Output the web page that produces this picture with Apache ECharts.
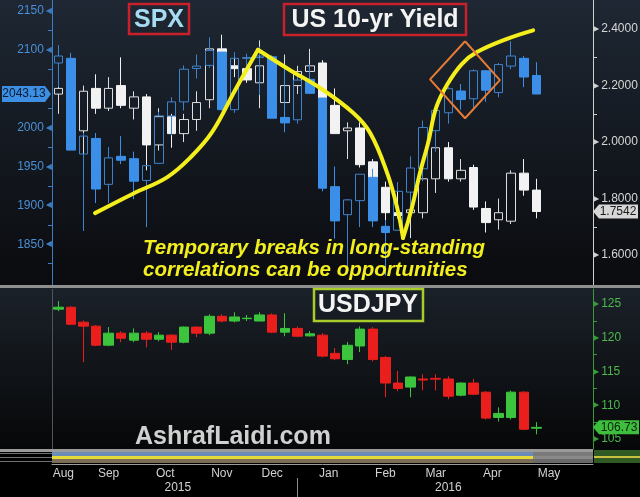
<!DOCTYPE html>
<html><head><meta charset="utf-8">
<script src="https://cdn.jsdelivr.net/npm/echarts@6/dist/echarts.min.js"></script>
<style>html,body{margin:0;padding:0;background:#000}#c{width:640px;height:497px}</style>
</head><body><div id="c"></div>
<script>
// Week-ending dates (Fridays); last four are empty future slots
const weeks = ['2015-08-14','2015-08-21','2015-08-28','2015-09-04','2015-09-11','2015-09-18','2015-09-25','2015-10-02','2015-10-09','2015-10-16','2015-10-23','2015-10-30','2015-11-06','2015-11-13','2015-11-20','2015-11-27','2015-12-04','2015-12-11','2015-12-18','2015-12-25','2016-01-01','2016-01-08','2016-01-15','2016-01-22','2016-01-29','2016-02-05','2016-02-12','2016-02-19','2016-02-26','2016-03-04','2016-03-11','2016-03-18','2016-03-25','2016-04-01','2016-04-08','2016-04-15','2016-04-22','2016-04-29','2016-05-06','2016-05-13','2016-05-20','2016-05-27','2016-06-03'];
const monthNames = ['Jan','Feb','Mar','Apr','May','Jun','Jul','Aug','Sep','Oct','Nov','Dec'];

// [open, close, low, high]
const spx = [
[2083,2092,2052,2106],[2089,1971,1971,2096],[1966,1989,1867,1993],[1986,1921,1903,1993],
[1927,1961,1903,1975],[1963,1958,1953,1989],[1960,1931,1908,1969],[1932,1951,1872,1952],
[1954,2015,1954,2020],[2015,2033,1990,2039],[2033,2075,2022,2080],[2076,2079,2063,2094],
[2080,2099,2077,2116],[2097,2023,2022,2097],[2023,2089,2019,2097],[2089,2090,2070,2095],
[2090,2092,2042,2104],[2091,2012,2012,2093],[2013,2006,1994,2076],[2010,2061,2005,2067],
[2062,2044,2043,2081],[2038,1922,1918,2038],[1924,1880,1857,1950],[1888,1907,1812,1908],
[1906,1940,1872,1940],[1936,1880,1872,1947],[1873,1865,1810,1881],[1868,1918,1868,1930],
[1917,1948,1891,1963],[1947,2000,1931,2009],[1996,2022,1969,2022],[2019,2050,2005,2052],
[2047,2036,2023,2056],[2037,2073,2022,2075],[2073,2048,2033,2074],[2045,2081,2039,2083],
[2079,2092,2075,2111],[2089,2065,2052,2092],[2067,2043.13,2043,2084]];

const yld = [
[2.17,2.19,2.10,2.25],[2.20,2.05,2.04,2.22],[2.04,2.18,1.91,2.20],[2.19,2.12,2.10,2.24],
[2.12,2.19,2.11,2.23],[2.20,2.13,2.12,2.30],[2.12,2.16,2.08,2.18],[2.16,1.99,1.90,2.17],
[1.99,2.09,1.97,2.12],[2.09,2.03,1.98,2.10],[2.03,2.08,2.00,2.10],[2.08,2.14,2.04,2.18],
[2.15,2.33,2.12,2.34],[2.33,2.27,2.26,2.38],[2.27,2.26,2.23,2.31],[2.26,2.22,2.21,2.27],
[2.21,2.27,2.12,2.36],[2.27,2.13,2.12,2.27],[2.14,2.20,2.13,2.31],[2.20,2.25,2.17,2.27],
[2.25,2.27,2.24,2.33],[2.28,2.12,2.11,2.29],[2.13,2.03,2.03,2.19],[2.04,2.05,1.94,2.07],
[2.05,1.92,1.91,2.07],[1.93,1.84,1.82,1.94],[1.84,1.75,1.53,1.86],[1.75,1.74,1.73,1.84],
[1.75,1.76,1.66,1.82],[1.75,1.87,1.73,1.90],[1.87,1.98,1.82,1.99],[1.98,1.87,1.86,2.00],
[1.87,1.90,1.86,1.94],[1.91,1.77,1.76,1.92],[1.765,1.715,1.68,1.79],[1.725,1.75,1.69,1.80],
[1.72,1.89,1.71,1.90],[1.89,1.83,1.81,1.94],[1.83,1.7542,1.73,1.87]];

const usdjpy = [
[124.26,124.55,123.96,125.45],[124.55,122.03,121.9,124.7],[122.33,121.74,116.39,122.6],[121.74,118.92,118.77,121.9],
[118.92,120.7,118.77,121.6],[120.7,119.95,119.36,121.0],[119.66,120.7,119.36,121.4],[120.7,119.8,118.6,121.0],
[119.8,120.4,119.5,120.85],[120.4,119.36,118.2,120.55],[119.36,121.6,119.2,121.7],[121.6,120.7,120.1,121.7],
[120.7,123.2,120.4,123.5],[123.2,122.5,122.3,123.5],[122.5,123.1,122.3,123.8],[122.85,122.92,122.5,123.4],
[122.5,123.4,122.5,123.8],[123.4,120.85,120.7,123.65],[120.85,121.4,120.25,123.65],[121.4,120.25,120.1,121.7],
[120.3,120.6,120.2,121.0],[120.4,117.3,117.1,120.7],[117.7,116.9,116.7,118.5],[116.8,118.9,116.1,119.4],
[118.8,121.3,117.9,121.7],[121.3,116.8,116.5,121.6],[117.1,113.3,111.2,117.3],[113.3,112.5,112.1,115.1],
[112.7,114.2,111.2,114.3],[113.9,113.75,112.2,114.6],[114.0,113.88,112.2,114.6],[113.9,111.35,110.9,114.3],
[111.5,113.3,111.35,113.4],[113.3,111.65,111.5,113.9],[111.95,108.1,107.9,112.1],[108.2,108.8,107.6,109.7],
[108.2,111.95,107.9,112.2],[111.95,106.45,106.3,112.1],[106.6,106.73,105.7,107.5]];

const spxLast = 2043.13, yldLast = 1.7542, jpyLast = 106.73;

const spxTicks = [1850,1900,1950,2000,2050,2100,2150];
const spxMinor = [1825,1875,1925,1975,2025,2075,2125];
const yldTicks = [1.6,1.8,2.0,2.2,2.4];
const yldMinor = [1.7,1.9,2.1,2.3];
const jpyTicks = [105,110,115,120,125];
const jpyMinor = [107.5,112.5,117.5,122.5];

// Hand-drawn annotation (week index, SPX level)
const trendA = [[2.92,1890],[5.94,1915],[8.64,1936],[10.47,1961],[12.22,1994],[14.05,2048],[15.87,2100]];
const trendB = [[15.87,2100],[18.3,2075],[20.8,2051],[23.43,2019],[24.79,1993],[26.13,1942],[26.92,1898],[27.4,1858]];
const trendC = [[27.4,1858],[28.12,1898],[28.75,1942],[29.39,1980],[30.02,2025],[30.9,2055],[32.09,2082],[33.28,2097],[35.67,2114],[37.74,2125]];
const diamond = [[32.33,2111],[35.1,2061],[32.33,2012],[29.55,2062],[32.33,2111]];

// month ticks/labels derived from the week list
const mIdx = weeks.map(w => +w.slice(5,7));
const monthEnds = [];
for (let i = 0; i < weeks.length - 1; i++) if (mIdx[i] !== mIdx[i+1]) monthEnds.push(i);
const monthPos = [], monthLab = [];
monthEnds.forEach((e, k) => {
  const prev = k === 0 ? e - 4 : monthEnds[k-1];
  monthPos.push(Math.max(0.4, (prev + e) / 2));
  monthLab.push(monthNames[mIdx[e]-1]);
});
const years = [...new Set(weeks.map(w => w.slice(0,4)))];
const yearPos = years.map(y => {
  const idx = weeks.map((w,i)=>w.startsWith(y)?i:-1).filter(i=>i>=0);
  return (idx[0] + idx[idx.length-1]) / 2;
});
const yearBreak = monthEnds.filter(e => weeks[e].slice(0,4) !== weeks[e+1].slice(0,4));
// the last-value tag hides a tick label that sits under it
const spxShown = spxTicks.filter(v => Math.abs(v - spxLast) > 9);

const FONT = '"Liberation Sans", Arial, sans-serif';
const N = weeks.length;
const chart = echarts.init(document.getElementById('c'), null, {renderer:'canvas'});

const labelNearest = (arr, labs, v) => { let b=0; arr.forEach((p,i)=>{ if (Math.abs(p-v)<Math.abs(arr[b]-v)) b=i; }); return labs[b]; };

const option = {
  animation: false,
  backgroundColor: '#000',
  grid: [
    {left: 52, right: 47, top: 0, height: 287, outerBoundsMode: 'none'},
    {left: 52, right: 47, top: 289, height: 160, outerBoundsMode: 'none'}
  ],
  xAxis: [
    {type:'category', gridIndex:0, data: weeks, show:false, boundaryGap:true},
    {type:'value', gridIndex:0, min:-0.5, max:N-0.5, show:false},
    {type:'category', gridIndex:1, data: weeks, position:'bottom', offset:15, boundaryGap:true,
      axisLine:{onZero:false, lineStyle:{color:'#9c9c9c', width:1}},
      axisTick:{alignWithLabel:true, length:4, interval:(i)=>monthEnds.indexOf(i)>=0, lineStyle:{color:'#a8a8a8'}},
      axisLabel:{show:false}, splitLine:{show:false}},
    {type:'value', gridIndex:1, min:-0.5, max:N-0.5, position:'bottom', offset:15,
      axisLine:{show:false, onZero:false}, axisTick:{show:false}, splitLine:{show:false},
      axisLabel:{customValues: monthPos, formatter: v => labelNearest(monthPos, monthLab, v),
        margin:4, color:'#d2d2d2', fontSize:12, fontFamily:FONT}},
    {type:'value', gridIndex:1, min:-0.5, max:N-0.5, position:'bottom', offset:15,
      axisLine:{show:false, onZero:false}, axisTick:{show:false}, splitLine:{show:false},
      axisLabel:{customValues: yearPos, formatter: v => labelNearest(yearPos, years, v),
        margin:18, color:'#d2d2d2', fontSize:12, fontFamily:FONT}},
    {type:'value', gridIndex:1, min:-0.5, max:N-0.5, position:'bottom', offset:29,
      axisLine:{show:false, onZero:false}, splitLine:{show:false}, axisLabel:{show:false},
      axisTick:{show:true, customValues: yearBreak, length:19, lineStyle:{color:'#8a8a8a', width:1}}}
  ],
  yAxis: [
    {type:'value', gridIndex:0, position:'left', min:1795, max:2164,
      axisLine:{show:true, onZero:false, lineStyle:{color:'#3b7cc4', width:1}},
      axisTick:{show:true, customValues: spxMinor, length:4, lineStyle:{color:'#3b7cc4'}},
      splitLine:{show:false},
      axisLabel:{customValues: spxShown, margin:0, formatter: v => '{v|' + v + '}{t|◀}',
        rich:{v:{fontSize:12, color:'#4a8fd6', fontFamily:FONT, padding:[0,2,0,0]}, t:{fontSize:8, color:'#3b7cc4', fontFamily:'DejaVu Sans'}}}},
    {type:'value', gridIndex:0, position:'right', min:1.487, max:2.503,
      axisLine:{show:true, onZero:false, lineStyle:{color:'#cfcfcf', width:1}},
      axisTick:{show:true, customValues: yldMinor, length:4, lineStyle:{color:'#cfcfcf'}},
      splitLine:{show:false},
      axisLabel:{customValues: yldTicks, margin:0, formatter: v => '{t|▶}{v|' + v.toFixed(4) + '}',
        rich:{v:{fontSize:12, color:'#d6d6d6', fontFamily:FONT, padding:[0,0,0,2]}, t:{fontSize:8, color:'#cfcfcf', fontFamily:'DejaVu Sans'}}}},
    {type:'value', gridIndex:1, position:'right', min:103.52, max:127.25,
      axisLine:{show:true, onZero:false, lineStyle:{color:'#3a9a3a', width:1}},
      axisTick:{show:true, customValues: jpyMinor, length:4, lineStyle:{color:'#3a9a3a'}},
      splitLine:{show:false},
      axisLabel:{customValues: jpyTicks, margin:0, formatter: v => '{t|▶}{v|' + v + '}',
        rich:{v:{fontSize:12, color:'#4cb84c', fontFamily:FONT, padding:[0,0,0,2]}, t:{fontSize:8, color:'#3a9a3a', fontFamily:'DejaVu Sans'}}}}
  ],
  series: [
    {type:'candlestick', name:'US 10-yr Yield', xAxisIndex:0, yAxisIndex:1, data:yld, barWidth:9, z:2,
      itemStyle:{color:'rgba(0,0,0,0)', color0:'#f2f2f2', borderColor:'#dedede', borderColor0:'#f2f2f2', borderWidth:1}},
    {type:'candlestick', name:'SPX', xAxisIndex:0, yAxisIndex:0, data:spx, barWidth:9, z:3,
      itemStyle:{color:'rgba(0,0,0,0)', color0:'#3c8fe8', borderColor:'#3f82cc', borderColor0:'#3c8fe8', borderWidth:1}},
    {type:'candlestick', name:'USDJPY', xAxisIndex:2, yAxisIndex:2, data:usdjpy, barWidth:10, z:3,
      itemStyle:{color:'#3cc53c', color0:'#ea1f1d', borderColor:'#3cc53c', borderColor0:'#ea1f1d', borderWidth:1}},
    ...[trendA, trendB, trendC].map(d => ({type:'line', xAxisIndex:1, yAxisIndex:0, data:d, smooth:0.4,
      symbol:'none', z:5, lineStyle:{color:'#f4ef1c', width:4, cap:'round'}})),
    {type:'line', xAxisIndex:1, yAxisIndex:0, data:diamond, smooth:false, symbol:'none', z:5,
      lineStyle:{color:'#e67b35', width:2}}
  ]
};
chart.setOption(option);

const ySpx = chart.convertToPixel({yAxisIndex:0}, spxLast);
const yYld = chart.convertToPixel({yAxisIndex:1}, yldLast);
const yJpy = chart.convertToPixel({yAxisIndex:2}, jpyLast);

const lg = (c1, c2) => new echarts.graphic.LinearGradient(0,0,0,1,[{offset:0,color:c1},{offset:1,color:c2}]);
const txt = (text, x, y, font, fill, align) => ({type:'text', z:100, style:{text, x, y, font, fill,
  align: align||'center', verticalAlign:'middle', textAlign: align||'center', textVerticalAlign:'middle'}});
const rect = (x,y,w,h,fill,z) => ({type:'rect', z: z===undefined?-10:z, silent:true, shape:{x,y,width:w,height:h}, style:{fill}});

const els = [
  rect(0,0,640,287, lg('#1e2733','#0a0b0e')),
  rect(0,288,640,162, lg('#1b2129','#060708')),
  rect(0,285,640,3,'#8e8e8e', 50),
  rect(52,289,1,160,'#50555c', 1),
  // overview strip
  rect(0,449,593,3,'#9a9a9a', 1),
  rect(52,452,481,4,'#6a8cb6', 1),
  rect(533,452,60,4,'#7a7a7a', 1),
  rect(52,456,481,3,'#e4da3a', 1),
  rect(533,456,60,3,'#8a8a8a', 1),
  rect(52,459,481,4,'#7d6d55', 1),
  rect(533,459,60,4,'#6a6a6a', 1),
  rect(0,453,52,1,'#6e6e6e', 1),
  rect(0,457,52,1,'#6e6e6e', 1),
  rect(0,461,52,1,'#6e6e6e', 1),
  rect(594,450,46,13,'#2f5a24', 1),
  rect(594,456,46,2,'#c8c040', 1),
  // titles
  {type:'rect', z:100, shape:{x:129,y:4,width:60,height:30}, style:{fill:'none', stroke:'#c8212b', lineWidth:2.5}},
  txt('SPX', 159, 20, 'bold 25px ' + FONT, '#a6dcf2'),
  {type:'rect', z:100, shape:{x:284,y:4,width:182,height:31}, style:{fill:'none', stroke:'#c8212b', lineWidth:2.5}},
  txt('US 10-yr Yield', 375, 20, 'bold 25px ' + FONT, '#f4f4f4'),
  {type:'rect', z:100, shape:{x:314,y:289,width:109,height:32}, style:{fill:'none', stroke:'#a8cc2a', lineWidth:2.5}},
  txt('USDJPY', 368, 305, 'bold 25px ' + FONT, '#f4f4f4'),
  txt('Temporary breaks in long-standing', 143, 248, 'italic bold 20.5px ' + FONT, '#f3ee1e', 'left'),
  txt('correlations can be opportunities', 143, 270, 'italic bold 20.5px ' + FONT, '#f3ee1e', 'left'),
  txt('AshrafLaidi.com', 135, 437, 'bold 25px ' + FONT, '#d0d0d0', 'left'),
  // last-value tags
  {type:'polygon', z:100, shape:{points:[[2,ySpx-8],[45,ySpx-8],[51,ySpx],[45,ySpx+8],[2,ySpx+8]]}, style:{fill:'#3d8fe4'}},
  txt(spxLast.toFixed(2), 24, ySpx, '12px ' + FONT, '#0b1b30'),
  {type:'polygon', z:100, shape:{points:[[593,yYld],[599,yYld-7],[638,yYld-7],[638,yYld+7],[599,yYld+7]]}, style:{fill:'#d6d6d6'}},
  txt(yldLast.toFixed(4), 618, yYld, '12px ' + FONT, '#1a1a1a'),
  {type:'polygon', z:100, shape:{points:[[593,yJpy],[599,yJpy-7],[639,yJpy-7],[639,yJpy+7],[599,yJpy+7]]}, style:{fill:'#3dbf3d'}},
  txt(jpyLast.toFixed(2), 619, yJpy, '12px ' + FONT, '#0b200b')
];
chart.setOption({graphic:{elements: els}});
</script></body></html>
